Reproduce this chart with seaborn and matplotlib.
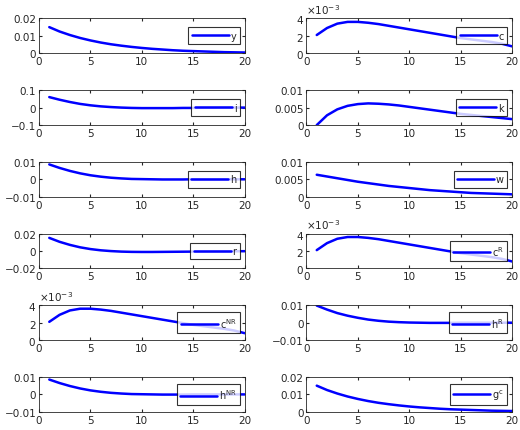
import numpy as np
import pandas as pd
import matplotlib
matplotlib.use("Agg")
import matplotlib.pyplot as plt
import matplotlib.ticker as mticker
import seaborn as sns

# --- data: impulse responses, periods 1..20 ---
periods = list(range(1, 21))
y = [0.015, 0.0125, 0.0105, 0.0088, 0.0074, 0.0062, 0.0052, 0.0044, 0.0037, 0.0031,
     0.0026, 0.0022, 0.0018, 0.0015, 0.0013, 0.0011, 0.0009, 0.0007, 0.0006, 0.0005]
c = [0.0021, 0.0029, 0.0034, 0.0036, 0.0036, 0.0035, 0.00335, 0.00315, 0.00295, 0.00275,
     0.00255, 0.00235, 0.00215, 0.00195, 0.00175, 0.0016, 0.00145, 0.0013, 0.0011, 0.0008]
i = [0.06, 0.045, 0.032, 0.021, 0.013, 0.007, 0.003, 0.0, -0.002, -0.003,
     -0.003, -0.003, -0.003, -0.002, -0.002, -0.001, -0.001, 0.0, 0.0, 0.0]
k = [0.0, 0.0028, 0.0045, 0.0055, 0.006, 0.0062, 0.0061, 0.0059, 0.0056, 0.0052,
     0.0048, 0.0044, 0.004, 0.0036, 0.0032, 0.0029, 0.0026, 0.0023, 0.002, 0.0017]
h = [0.0085, 0.0065, 0.0048, 0.0034, 0.0023, 0.0015, 0.0009, 0.0005, 0.0002, 0.0001,
     0.0, -0.0001, -0.0001, -0.0001, 0.0, 0.0, 0.0, 0.0, 0.0, 0.0]
w = [0.0063, 0.0058, 0.0053, 0.0048, 0.0043, 0.0039, 0.0035, 0.0031, 0.0028, 0.0025,
     0.0022, 0.0019, 0.0017, 0.0015, 0.0013, 0.0011, 0.001, 0.0009, 0.0008, 0.0007]
r = [0.015, 0.0105, 0.007, 0.0042, 0.0022, 0.0008, -0.0001, -0.0007, -0.001, -0.0011,
     -0.0011, -0.001, -0.0009, -0.0008, -0.0007, -0.0006, -0.0005, -0.0004, -0.0003, -0.0002]
cR = c
cNR = c
hR = [0.0098, 0.0075, 0.0055, 0.004, 0.0028, 0.0018, 0.0011, 0.0006, 0.0003, 0.0001,
      0.0, -0.0001, -0.0001, -0.0001, 0.0, 0.0, 0.0, 0.0, 0.0, 0.0]
hNR = h
gc = y

labels = ['y', 'c', 'i', 'k', 'h', 'w', 'r', r'c$^{\mathrm{R}}$',
          r'c$^{\mathrm{NR}}$', r'h$^{\mathrm{R}}$', r'h$^{\mathrm{NR}}$', r'g$^{\mathrm{c}}$']
series = [y, c, i, k, h, w, r, cR, cNR, hR, hNR, gc]
ylims = [(0, 0.02), (0, 0.004), (-0.1, 0.1), (0, 0.01), (-0.01, 0.01), (0, 0.01),
         (-0.02, 0.02), (0, 0.004), (0, 0.004), (-0.01, 0.01), (-0.01, 0.01), (0, 0.02)]
yticks = [[0, 0.01, 0.02], [0, 0.002, 0.004], [-0.1, 0, 0.1], [0, 0.005, 0.01],
          [-0.01, 0, 0.01], [0, 0.005, 0.01], [-0.02, 0, 0.02], [0, 0.002, 0.004],
          [0, 0.002, 0.004], [-0.01, 0, 0.01], [-0.01, 0, 0.01], [0, 0.01, 0.02]]

sns.set_style("ticks")
plt.rcParams['font.family'] = ['DejaVu Sans']
plt.rcParams['font.size'] = 8
plt.rcParams['xtick.direction'] = 'in'
plt.rcParams['ytick.direction'] = 'in'

fig, axes = plt.subplots(6, 2, figsize=(5.2, 4.31), dpi=100)
fig.subplots_adjust(left=0.075, right=0.985, top=0.955, bottom=0.042, wspace=0.30, hspace=1.05)

for ax, vals, lab, yl, yt in zip(axes.flat, series, labels, ylims, yticks):
    df = pd.DataFrame({'t': periods, 'v': vals})
    sns.lineplot(data=df, x='t', y='v', ax=ax, color='#0000ff', linewidth=1.8, label=lab)
    ax.set_xlim(0, 20)
    ax.set_ylim(*yl)
    ax.set_xticks([0, 5, 10, 15, 20])
    ax.set_yticks(yt)
    ax.set_xlabel('')
    ax.set_ylabel('')
    ax.tick_params(labelsize=7.5, length=2, pad=2, top=True, right=True)
    if yl[1] == 0.004:
        fmt = mticker.ScalarFormatter(useMathText=True)
        fmt.set_powerlimits((-3, -3))
        ax.yaxis.set_major_formatter(fmt)
        ax.yaxis.get_offset_text().set_fontsize(7.5)
    else:
        ax.yaxis.set_major_formatter(mticker.FuncFormatter(
            lambda v, p: '0' if v == 0 else ('%g' % v).replace('-', '\u2212')))
    leg = ax.legend(loc='center right', fontsize=7, handlelength=3.8, frameon=True,
                    fancybox=False, edgecolor='black', borderpad=0.35,
                    handletextpad=0.2)
    leg.get_frame().set_linewidth(0.8)
    for s in ax.spines.values():
        s.set_linewidth(0.6)

fig.savefig('out.png', dpi=100)
